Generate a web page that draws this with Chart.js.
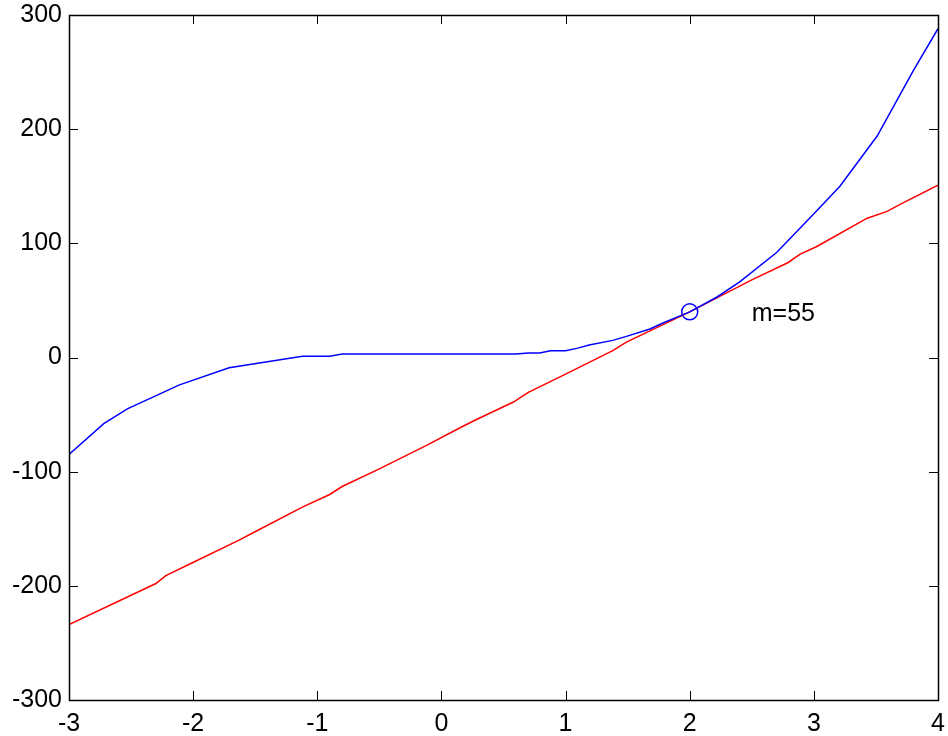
<!DOCTYPE html>
<html>
<head>
<meta charset="utf-8">
<title>Tangent line</title>
<script src="https://cdn.jsdelivr.net/npm/chart.js@4/dist/chart.umd.min.js"></script>
<style>
  html, body { margin: 0; padding: 0; background: #fff; }
  canvas { display: block; }
</style>
</head>
<body>
<canvas id="plot" width="948" height="736"></canvas>
<script>
// curve samples (x, y)
const curveX = [-3, -2.72, -2.53, -2.11, -1.71, -1.12, -0.9, -0.8, 0.6, 0.7, 0.79, 0.88, 1.0, 1.09, 1.19, 1.38, 1.49, 1.68, 1.78, 2.0, 2.22, 2.4, 2.7, 3.01, 3.21, 3.51, 3.8, 4.0];
const curveY = [-85, -58, -45, -24, -9, 1, 1, 3, 3, 4, 4, 6, 6, 8, 11, 15, 18.5, 25, 30, 40, 53, 66, 92, 127, 150, 194, 251, 288];

// tangent line samples (x, y)
const tangentX = [-3, -2.3, -2.22, -2.01, -1.63, -1.49, -1.12, -0.9, -0.8, -0.5, -0.12, 0.15, 0.27, 0.58, 0.7, 1.0, 1.38, 1.49, 2.0, 2.5, 2.79, 2.89, 3.02, 3.43, 3.59, 3.71, 4.0];
const tangentY = [-234, -198, -191, -180, -160, -152, -131, -120, -113, -97.5, -77, -61.5, -55, -39, -30.5, -14.5, 6, 13.5, 40, 68, 83, 90.5, 97, 122, 128, 135, 151];

// point of tangency and slope label
const touchX = 2;
const touchY = 40;
const slopeLabel = 'm=55';

const xTicks = [-3, -2, -1, 0, 1, 2, 3, 4];
const yTicks = [-300, -200, -100, 0, 100, 200, 300];

const FONT = '"Liberation Sans", Arial, sans-serif';

const zip = (xs, ys) => xs.map((x, i) => ({ x, y: ys[i] }));

// box around the axes with inward ticks on every side, plus the slope text
const framePlugin = {
    id: 'frame',
    afterDatasetsDraw(chart) {
        const { ctx, chartArea: a, scales } = chart;
        const len = 9;
        ctx.save();
        ctx.strokeStyle = '#000';
        ctx.lineWidth = 1;
        ctx.beginPath();
        xTicks.forEach(v => {
            const px = Math.round(scales.x.getPixelForValue(v)) + 0.5;
            ctx.moveTo(px, a.bottom); ctx.lineTo(px, a.bottom - len);
            ctx.moveTo(px, a.top); ctx.lineTo(px, a.top + len);
        });
        yTicks.forEach(v => {
            const py = Math.round(scales.y.getPixelForValue(v)) + 0.5;
            ctx.moveTo(a.left, py); ctx.lineTo(a.left + len, py);
            ctx.moveTo(a.right, py); ctx.lineTo(a.right - len, py);
        });
        ctx.stroke();
        ctx.lineWidth = 1.5;
        ctx.strokeRect(Math.round(a.left) + 0.5, Math.round(a.top) + 0.5, Math.round(a.right - a.left), Math.round(a.bottom - a.top));

        ctx.fillStyle = '#000';
        ctx.font = '25px ' + FONT;
        ctx.textAlign = 'left';
        ctx.textBaseline = 'middle';
        ctx.fillText(slopeLabel, scales.x.getPixelForValue(touchX + 0.5), scales.y.getPixelForValue(touchY) + 2);
        ctx.restore();
    }
};

new Chart(document.getElementById('plot'), {
    type: 'line',
    data: {
        datasets: [
            {
                data: zip(curveX, curveY),
                borderColor: '#0000ff',
                borderWidth: 1.5,
                pointRadius: 0,
                tension: 0
            },
            {
                data: zip(tangentX, tangentY),
                borderColor: '#ff0000',
                borderWidth: 1.5,
                pointRadius: 0,
                tension: 0
            },
            {
                data: [{ x: touchX, y: touchY }],
                showLine: false,
                pointStyle: 'circle',
                pointRadius: 8,
                pointBorderWidth: 1.5,
                pointBorderColor: '#0000ff',
                pointBackgroundColor: 'rgba(0,0,0,0)'
            }
        ]
    },
    options: {
        responsive: false,
        animation: false,
        layout: { padding: { top: 15, right: 10, left: 0, bottom: 0 } },
        plugins: { legend: { display: false }, tooltip: { enabled: false } },
        scales: {
            x: {
                type: 'linear',
                min: -3,
                max: 4,
                afterBuildTicks: s => { s.ticks = xTicks.map(v => ({ value: v })); },
                afterFit: s => { s.height = 36; s.paddingLeft = 0; s.paddingRight = 0; },
                grid: { display: false, drawTicks: false },
                border: { display: false },
                ticks: { color: '#000', padding: 9, maxRotation: 0, font: { family: FONT, size: 25 } }
            },
            y: {
                min: -300,
                max: 300,
                afterBuildTicks: s => { s.ticks = yTicks.map(v => ({ value: v })); },
                afterFit: s => { s.width = 69; s.paddingTop = 0; s.paddingBottom = 0; },
                grid: { display: false, drawTicks: false },
                border: { display: false },
                ticks: { color: '#000', padding: 7, font: { family: FONT, size: 25 } }
            }
        }
    },
    plugins: [framePlugin]
});
</script>
</body>
</html>
